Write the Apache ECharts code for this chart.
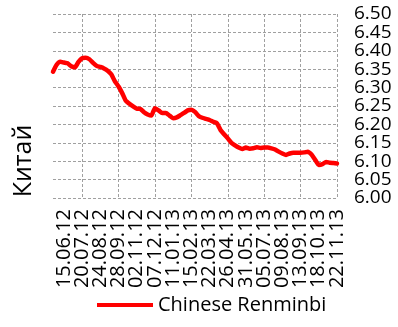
<!DOCTYPE html>
<html>
<head>
<meta charset="utf-8">
<script src="https://cdn.jsdelivr.net/npm/echarts@6/dist/echarts.min.js"></script>
<style>
html,body{margin:0;padding:0;background:#fff;}
#chart{width:398px;height:327px;}
</style>
</head>
<body>
<div id="chart"></div>
<script>
var dates = [
 '25.05.12','01.06.12','08.06.12','15.06.12','22.06.12','29.06.12','06.07.12','13.07.12','20.07.12','27.07.12',
 '03.08.12','10.08.12','17.08.12','24.08.12','31.08.12','07.09.12','14.09.12','21.09.12','28.09.12','05.10.12',
 '12.10.12','19.10.12','26.10.12','02.11.12','09.11.12','16.11.12','23.11.12','30.11.12','07.12.12','14.12.12',
 '21.12.12','28.12.12','04.01.13','11.01.13','18.01.13','25.01.13','01.02.13','08.02.13','15.02.13','22.02.13',
 '01.03.13','08.03.13','15.03.13','22.03.13','29.03.13','05.04.13','12.04.13','19.04.13','26.04.13','03.05.13',
 '10.05.13','17.05.13','24.05.13','31.05.13','07.06.13','14.06.13','21.06.13','28.06.13','05.07.13','12.07.13',
 '19.07.13','26.07.13','02.08.13','09.08.13','16.08.13','23.08.13','30.08.13','06.09.13','13.09.13','20.09.13',
 '27.09.13','04.10.13','11.10.13','18.10.13','25.10.13','01.11.13','08.11.13','15.11.13','22.11.13'
];
var renminbi = [
 6.343,6.362,6.370,6.368,6.366,6.358,6.355,6.370,6.380,6.381,
 6.377,6.367,6.359,6.356,6.352,6.346,6.336,6.317,6.303,6.285,
 6.264,6.256,6.249,6.243,6.242,6.233,6.227,6.224,6.244,6.238,
 6.231,6.231,6.224,6.217,6.219,6.225,6.231,6.238,6.240,6.234,
 6.223,6.218,6.215,6.212,6.207,6.203,6.185,6.173,6.162,6.150,
 6.143,6.137,6.133,6.137,6.134,6.135,6.138,6.136,6.137,6.137,
 6.135,6.132,6.126,6.121,6.117,6.121,6.123,6.123,6.123,6.124,
 6.126,6.118,6.104,6.090,6.092,6.098,6.096,6.095,6.094
];
var seriesName = 'Chinese Renminbi';
var axisTitle = 'Китай';
var yMin = 6.00, yMax = 6.50, yStep = 0.05, yMajor = 0.10;

var FONT = 'Open Sans';
var gridBox = {left: 53, right: 61, top: 14, bottom: 129, containLabel: false};
var labelStyle = {fontFamily: FONT, fontSize: 19, color: '#000'};
var gridLine = {color: '#a0a0a0', type: [3, 2], width: 1};

function xLabelAxis(gridIndex, offset, withSplit) {
  return {
    type: 'category', data: dates, boundaryGap: false, gridIndex: gridIndex,
    axisLine: {show: false}, axisTick: {show: false},
    axisLabel: Object.assign({
      rotate: 90, margin: 11,
      interval: function(i){ return (i - 3) % 10 === offset; }
    }, labelStyle, {fontSize: 20}),
    splitLine: {
      show: withSplit,
      interval: function(i){ return i >= 8 && (i - 8) % 10 === 0; },
      lineStyle: gridLine
    }
  };
}

var chart = echarts.init(document.getElementById('chart'), null, {renderer:'canvas'});
chart.setOption({
  animation: false,
  backgroundColor: '#ffffff',
  grid: [Object.assign({}, gridBox), Object.assign({}, gridBox)],
  legend: {
    data: [seriesName],
    left: 92, top: 290,
    icon: 'rect', itemWidth: 56, itemHeight: 4, itemGap: 10,
    textStyle: {fontFamily: FONT, fontSize: 20, color: '#000'}
  },
  graphic: [{
    type: 'text',
    rotation: Math.PI/2,
    x: 24, y: 161,
    style: {text: axisTitle, fontFamily: FONT, fontSize: 25, fill: '#000',
            align: 'center', verticalAlign: 'middle'}
  }],
  xAxis: [xLabelAxis(0, 0, true), xLabelAxis(1, 5, false)],
  yAxis: [{
    type: 'value', position: 'right', gridIndex: 0, min: yMin, max: yMax, interval: yStep,
    axisLine: {show: false}, axisTick: {show: false},
    axisLabel: Object.assign({
      margin: 17,
      formatter: function(v){ return Math.round(v * 100) % 10 === 5 ? v.toFixed(2) : ''; }
    }, labelStyle),
    splitLine: {lineStyle: gridLine}
  }, {
    type: 'value', position: 'right', gridIndex: 1, min: yMin, max: yMax, interval: yMajor,
    axisLine: {show: false}, axisTick: {show: false},
    axisLabel: Object.assign({
      margin: 17,
      formatter: function(v){ return v.toFixed(2); }
    }, labelStyle),
    splitLine: {show: false}
  }],
  series: [{
    name: seriesName, type: 'line', data: renminbi, xAxisIndex: 0, yAxisIndex: 0,
    showSymbol: false, symbol: 'none', smooth: 0.2,
    lineStyle: {color: '#ff0000', width: 4.5, cap: 'round', join: 'round'},
    itemStyle: {color: '#ff0000'}
  }]
});
</script>
</body>
</html>
